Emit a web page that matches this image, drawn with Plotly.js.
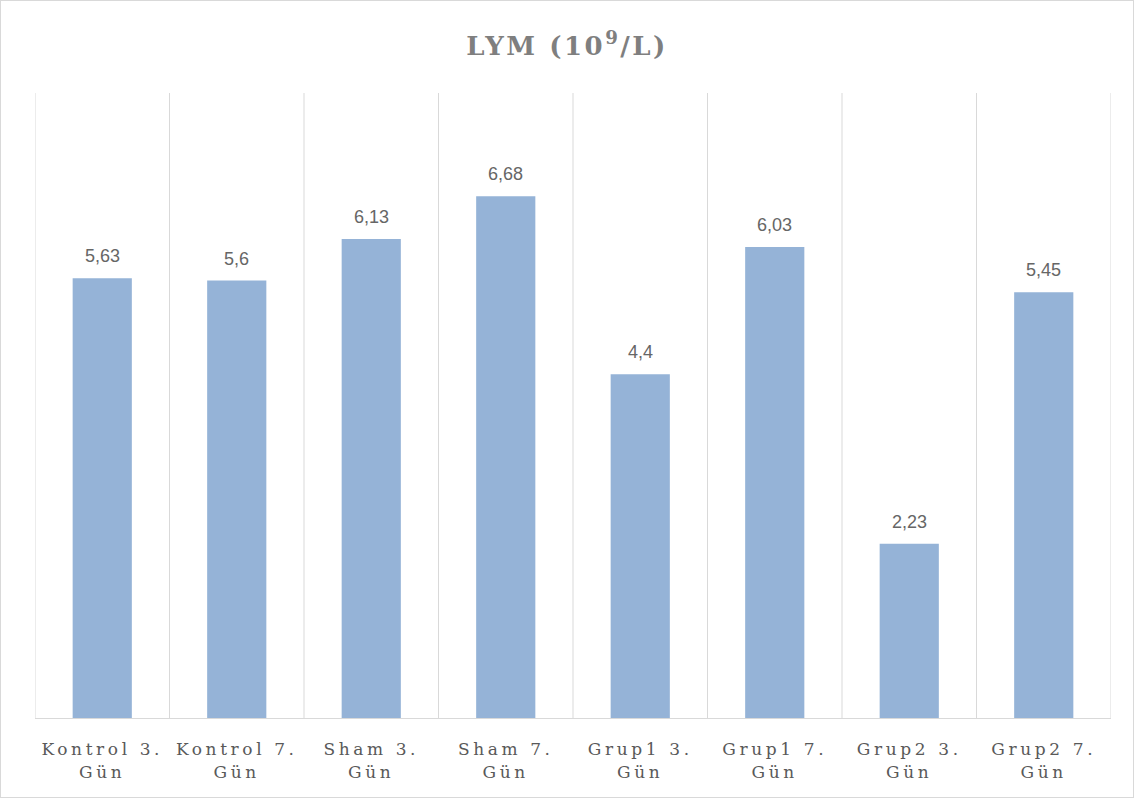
<!DOCTYPE html>
<html><head><meta charset="utf-8">
<script src="https://cdn.plot.ly/plotly-3.0.1.min.js"></script>
<style>
html,body{margin:0;padding:0;background:#fff;}
#chart{width:1132px;height:796px;border:1px solid #d9d9d9;}
.xtick text{letter-spacing:3.6px;}
.gtitle{letter-spacing:2.5px;}
</style></head><body>
<div id="chart"></div>
<script>
const categories = ["Kontrol 3.<br>Gün","Kontrol 7.<br>Gün","Sham 3.<br>Gün","Sham 7.<br>Gün","Grup1 3.<br>Gün","Grup1 7.<br>Gün","Grup2 3.<br>Gün","Grup2 7.<br>Gün"];
const values = [5.63, 5.6, 6.13, 6.68, 4.4, 6.03, 2.23, 5.45];
const yMax = 8;

const idx = categories.map((c,i)=>i);
const labels = values.map(v => String(v).replace('.', ','));
const shapes = [];
for (let i = 0; i <= categories.length; i++) {
  shapes.push({type:'line', xref:'x', yref:'y', x0:i-0.5, x1:i-0.5, y0:0, y1:yMax,
    line:{color:'#d9d9d9', width:1}, layer:'below'});
}
const annotations = values.map((v,i)=>({
  x:i, y:v, xref:'x', yref:'y', text:labels[i], showarrow:false,
  yanchor:'bottom', yshift:10,
  font:{family:'Liberation Sans, Arial, sans-serif', size:18, color:'#666666'}
}));
const trace = {
  type:'bar', x: idx, y: values,
  marker:{color:'#95b3d7'}, cliponaxis:false, hoverinfo:'none'
};
const layout = {
  width:1132, height:796,
  margin:{l:34, r:22, t:92, b:79},
  paper_bgcolor:'#fff', plot_bgcolor:'#fff',
  title:{text:'LYM (10<sup>9</sup>/L)', x:0.5, xanchor:'center', y:0.9435, yanchor:'middle',
    font:{family:'DejaVu Serif, serif', size:26, color:'#7f7f7f', weight:'bold'}},
  bargap:0.56,
  showlegend:false,
  xaxis:{tickmode:'array', tickvals: idx, ticktext: categories, range:[-0.5, categories.length-0.5],
    showgrid:false, zeroline:false, showline:true, linecolor:'#d9d9d9', linewidth:1,
    ticks:'', ticklabelstandoff:16,
    tickfont:{family:'DejaVu Serif, serif', size:17, color:'#595959'}},
  yaxis:{range:[0,yMax], visible:false, showgrid:false, zeroline:false},
  shapes: shapes,
  annotations: annotations
};
Plotly.newPlot('chart',[trace],layout,{displayModeBar:false,staticPlot:true});
</script></body></html>
